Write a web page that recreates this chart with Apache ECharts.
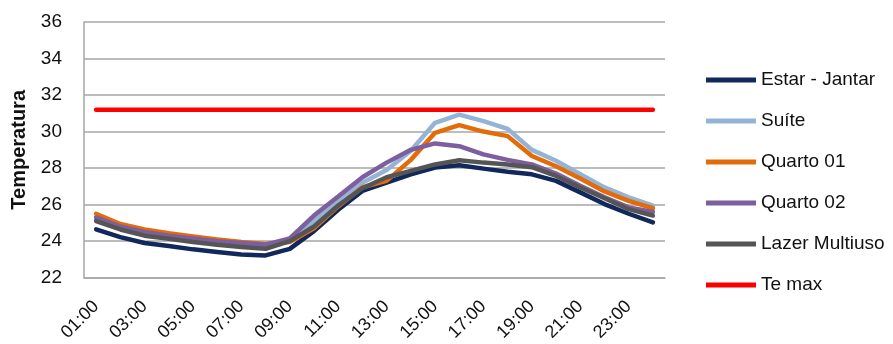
<!DOCTYPE html>
<html>
<head>
<meta charset="utf-8">
<script src="https://cdn.jsdelivr.net/npm/echarts@6/dist/echarts.min.js"></script>
<style>
  html, body { margin: 0; padding: 0; background: #ffffff; }
  #chart { width: 893px; height: 344px; }
</style>
</head>
<body>
<div id="chart"></div>
<script>
// Hourly indoor temperatures per room, with the maximum outdoor temperature
const hours = ['01:00','02:00','03:00','04:00','05:00','06:00','07:00','08:00','09:00','10:00','11:00','12:00',
               '13:00','14:00','15:00','16:00','17:00','18:00','19:00','20:00','21:00','22:00','23:00','24:00'];

const estarJantar = [24.65, 24.22, 23.9, 23.73, 23.55, 23.4, 23.27, 23.22, 23.58, 24.55, 25.72, 26.75,
                     27.2, 27.66, 28.03, 28.15, 27.97, 27.8, 27.66, 27.3, 26.67, 26.03, 25.5, 25.03];
const suite       = [25.2, 24.7, 24.4, 24.2, 24.05, 23.9, 23.8, 23.7, 24.05, 25.1, 26.2, 27.2,
                     27.9, 28.95, 30.48, 30.93, 30.57, 30.15, 29.0, 28.4, 27.66, 26.94, 26.4, 25.94];
const quarto01    = [25.5, 24.94, 24.64, 24.43, 24.25, 24.09, 23.95, 23.85, 23.95, 24.7, 25.9, 26.95,
                     27.3, 28.45, 29.93, 30.35, 30.0, 29.75, 28.66, 28.1, 27.43, 26.72, 26.2, 25.8];
const quarto02    = [25.3, 24.8, 24.5, 24.3, 24.15, 24.0, 23.9, 23.8, 24.15, 25.4, 26.45, 27.5,
                     28.3, 29.0, 29.35, 29.2, 28.75, 28.45, 28.2, 27.7, 27.03, 26.4, 25.85, 25.6];
const lazerMultiuso = [25.1, 24.64, 24.3, 24.13, 23.95, 23.8, 23.68, 23.58, 24.0, 24.8, 25.95, 26.9,
                     27.5, 27.85, 28.2, 28.43, 28.3, 28.2, 28.05, 27.57, 26.94, 26.35, 25.75, 25.4];
const teMax       = [31.2, 31.2, 31.2, 31.2, 31.2, 31.2, 31.2, 31.2, 31.2, 31.2, 31.2, 31.2,
                     31.2, 31.2, 31.2, 31.2, 31.2, 31.2, 31.2, 31.2, 31.2, 31.2, 31.2, 31.2];

const seriesNames = ['Estar - Jantar', 'Suíte', 'Quarto 01', 'Quarto 02', 'Lazer Multiuso', 'Te max'];
const seriesData = [estarJantar, suite, quarto01, quarto02, lazerMultiuso, teMax];
const seriesColors = ['#10285c', '#95b3d7', '#e36c09', '#7d5f9f', '#555555', '#ff0000'];

const FONT = '"Liberation Sans", Arial, sans-serif';
const TEXT_COLOR = '#111111';
const GRID_COLOR = '#a6a6a6';

const chart = echarts.init(document.getElementById('chart'), null, { renderer: 'canvas' });

chart.setOption({
  animation: false,
  backgroundColor: '#ffffff',
  textStyle: { fontFamily: FONT },
  grid: { left: 84, right: 228, top: 22, bottom: 65, containLabel: false },
  legend: {
    orient: 'vertical',
    left: 701,
    top: 65,
    icon: 'rect',
    itemWidth: 50,
    itemHeight: 5,
    itemGap: 21,
    data: seriesNames,
    textStyle: { fontFamily: FONT, fontSize: 19, color: TEXT_COLOR, lineHeight: 20 }
  },
  xAxis: {
    type: 'category',
    data: hours,
    boundaryGap: true,
    axisLine: { show: true, lineStyle: { color: GRID_COLOR, width: 1.5 } },
    axisTick: { show: false },
    axisLabel: {
      interval: 1,
      rotate: 45,
      margin: 26,
      fontFamily: FONT,
      fontSize: 18,
      color: TEXT_COLOR
    },
    splitLine: { show: false }
  },
  yAxis: {
    type: 'value',
    min: 22,
    max: 36,
    interval: 2,
    name: 'Temperatura',
    nameLocation: 'middle',
    nameGap: 48,
    nameRotate: 90,
    nameTextStyle: { fontFamily: FONT, fontSize: 20, fontWeight: 'bold', color: TEXT_COLOR },
    axisLine: { show: true, lineStyle: { color: GRID_COLOR, width: 1.5 } },
    axisTick: { show: false },
    axisLabel: { margin: 22, fontFamily: FONT, fontSize: 19, color: TEXT_COLOR },
    splitLine: { show: true, lineStyle: { color: GRID_COLOR, width: 1.5 } }
  },
  series: seriesNames.map((name, i) => ({
    name: name,
    type: 'line',
    data: seriesData[i],
    symbol: 'none',
    smooth: false,
    color: seriesColors[i],
    lineStyle: { width: 4.5, color: seriesColors[i], cap: 'round', join: 'round' },
    itemStyle: { color: seriesColors[i] },
    z: 2 + i
  }))
});
</script>
</body>
</html>
